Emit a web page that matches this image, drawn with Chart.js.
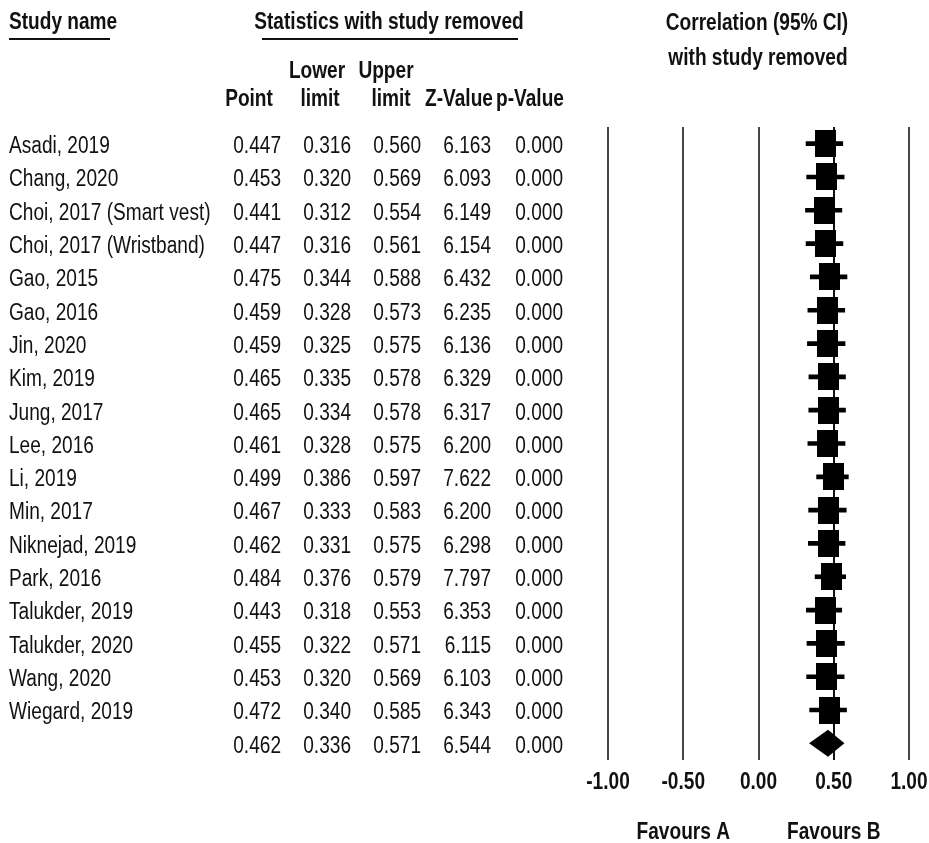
<!DOCTYPE html>
<html>
<head>
<meta charset="utf-8">
<title>Correlation with study removed</title>
<script src="https://cdn.jsdelivr.net/npm/chart.js@4.4.1/dist/chart.umd.min.js"></script>
<style>
  html, body { margin: 0; padding: 0; background: #ffffff; }
  #wrap { width: 929px; height: 843px; position: relative; }
  canvas { display: block; }
</style>
</head>
<body>
<div id="wrap"><canvas id="forest" width="929" height="843"></canvas></div>
<script>
// ---- data ----
const studyNames = [
  'Asadi, 2019', 'Chang, 2020', 'Choi, 2017 (Smart vest)', 'Choi, 2017 (Wristband)',
  'Gao, 2015', 'Gao, 2016', 'Jin, 2020', 'Kim, 2019', 'Jung, 2017', 'Lee, 2016',
  'Li, 2019', 'Min, 2017', 'Niknejad, 2019', 'Park, 2016', 'Talukder, 2019',
  'Talukder, 2020', 'Wang, 2020', 'Wiegard, 2019'
];
const pointEst = [0.447, 0.453, 0.441, 0.447, 0.475, 0.459, 0.459, 0.465, 0.465, 0.461,
                  0.499, 0.467, 0.462, 0.484, 0.443, 0.455, 0.453, 0.472];
const lowerLimit = [0.316, 0.320, 0.312, 0.316, 0.344, 0.328, 0.325, 0.335, 0.334, 0.328,
                    0.386, 0.333, 0.331, 0.376, 0.318, 0.322, 0.320, 0.340];
const upperLimit = [0.560, 0.569, 0.554, 0.561, 0.588, 0.573, 0.575, 0.578, 0.578, 0.575,
                    0.597, 0.583, 0.575, 0.579, 0.553, 0.571, 0.569, 0.585];
const zValues = [6.163, 6.093, 6.149, 6.154, 6.432, 6.235, 6.136, 6.329, 6.317, 6.200,
                 7.622, 6.200, 6.298, 7.797, 6.353, 6.115, 6.103, 6.343];
const pValues = [0.000, 0.000, 0.000, 0.000, 0.000, 0.000, 0.000, 0.000, 0.000, 0.000,
                 0.000, 0.000, 0.000, 0.000, 0.000, 0.000, 0.000, 0.000];
// combined estimate (bottom row)
const overallStats = { point: 0.462, lower: 0.336, upper: 0.571, z: 6.544, p: 0.000 };
// axis
const tickValues = [-1, -0.5, 0, 0.5, 1];
const tickLabels = ['-1.00', '-0.50', '0.00', '0.50', '1.00'];
const favourLabels = [{ at: -0.5, text: 'Favours A' }, { at: 0.5, text: 'Favours B' }];

// ---- rendering ----
const rowLabels = studyNames.concat(['']);
const FONT = '"Liberation Sans", Arial, Helvetica, sans-serif';
const NARROW = 0.83;  // condensed glyph width
const INK = '#111111';

function narrowText(ctx, text, x, y, align, bold) {
  ctx.save();
  ctx.font = (bold ? 'bold ' : '') + '23px ' + FONT;
  ctx.fillStyle = INK;
  ctx.textAlign = align;
  ctx.textBaseline = 'middle';
  ctx.translate(x, y + 2);
  ctx.scale(NARROW, 1);
  ctx.fillText(text, 0, 0);
  ctx.restore();
}

// black block marker for each study estimate
const block = document.createElement('canvas');
block.width = 21; block.height = 27;
(function () {
  const b = block.getContext('2d');
  b.fillStyle = '#000000';
  b.fillRect(0, 0, 21, 27);
})();

const tablePlugin = {
  id: 'forestTable',
  afterDatasetsDraw(chart) {
    const ctx = chart.ctx;
    const xs = chart.scales.x, ys = chart.scales.y;
    // overall diamond
    const yc = ys.getPixelForValue(rowLabels.length - 1);
    const half = 13.5;
    ctx.save();
    ctx.beginPath();
    ctx.moveTo(xs.getPixelForValue(overallStats.lower), yc);
    ctx.lineTo(xs.getPixelForValue(overallStats.point), yc - half);
    ctx.lineTo(xs.getPixelForValue(overallStats.upper), yc);
    ctx.lineTo(xs.getPixelForValue(overallStats.point), yc + half);
    ctx.closePath();
    ctx.fillStyle = '#000000';
    ctx.fill();
    ctx.restore();
  },
  afterDraw(chart) {
    const ctx = chart.ctx;
    const xs = chart.scales.x, ys = chart.scales.y;

    // headers
    narrowText(ctx, 'Study name', 9, 21, 'left', true);
    narrowText(ctx, 'Statistics with study removed', 389, 21, 'center', true);
    narrowText(ctx, 'Correlation (95% CI)', 757, 22, 'center', true);
    narrowText(ctx, 'with study removed', 758, 57, 'center', true);
    ctx.save();
    ctx.strokeStyle = INK;
    ctx.lineWidth = 2;
    ctx.beginPath();
    ctx.moveTo(9, 39); ctx.lineTo(110, 39);
    ctx.moveTo(262, 39); ctx.lineTo(518, 39);
    ctx.stroke();
    ctx.restore();

    narrowText(ctx, 'Lower', 317, 70, 'center', true);
    narrowText(ctx, 'Upper', 386, 70, 'center', true);
    narrowText(ctx, 'Point', 249, 98, 'center', true);
    narrowText(ctx, 'limit', 320, 98, 'center', true);
    narrowText(ctx, 'limit', 391, 98, 'center', true);
    narrowText(ctx, 'Z-Value', 459, 98, 'center', true);
    narrowText(ctx, 'p-Value', 530, 98, 'center', true);

    // table rows
    const colRight = [281, 351, 421, 491, 563];
    const rows = studyNames.map((n, i) => [n, pointEst[i], lowerLimit[i], upperLimit[i], zValues[i], pValues[i]]);
    rows.push(['', overallStats.point, overallStats.lower, overallStats.upper, overallStats.z, overallStats.p]);
    rows.forEach((r, i) => {
      const y = ys.getPixelForValue(i) + 1;
      if (r[0]) narrowText(ctx, r[0], 9, y, 'left', false);
      for (let c = 0; c < 5; c++) {
        narrowText(ctx, r[c + 1].toFixed(3), colRight[c], y, 'right', false);
      }
    });

    // axis labels
    xs.ticks.forEach((t, i) => {
      narrowText(ctx, tickLabels[i], xs.getPixelForValue(t.value), 781, 'center', true);
    });
    favourLabels.forEach(f => {
      narrowText(ctx, f.text, xs.getPixelForValue(f.at), 831, 'center', true);
    });
  }
};

new Chart(document.getElementById('forest'), {
  type: 'bar',
  data: {
    labels: rowLabels,
    datasets: [
      {
        label: 'CI',
        data: lowerLimit.map((l, i) => [l, upperLimit[i]]),
        backgroundColor: '#000000',
        borderWidth: 0,
        barThickness: 4,
        order: 2
      },
      {
        type: 'scatter',
        label: 'Point',
        data: pointEst.map((p, i) => ({ x: p, y: studyNames[i] })),
        pointStyle: block,
        pointRadius: 10,
        backgroundColor: '#000000',
        showLine: false,
        order: 1
      }
    ]
  },
  options: {
    indexAxis: 'y',
    responsive: false,
    animation: false,
    devicePixelRatio: 1,
    layout: { padding: { left: 608, right: 20, top: 127, bottom: 83 } },
    plugins: { legend: { display: false }, tooltip: { enabled: false } },
    scales: {
      x: {
        type: 'linear',
        min: -1,
        max: 1,
        afterBuildTicks: s => { s.ticks = tickValues.map(v => ({ value: v })); },
        afterFit: s => { s.height = 0; },
        ticks: { display: false },
        border: { display: false },
        grid: {
          drawTicks: false,
          color: c => (c.tick && c.tick.value === 0.5) ? '#111111' : '#454545',
          lineWidth: 2
        }
      },
      y: {
        type: 'category',
        display: false,
        offset: true,
        grid: { display: false }
      }
    }
  },
  plugins: [tablePlugin]
});
</script>
</body>
</html>
